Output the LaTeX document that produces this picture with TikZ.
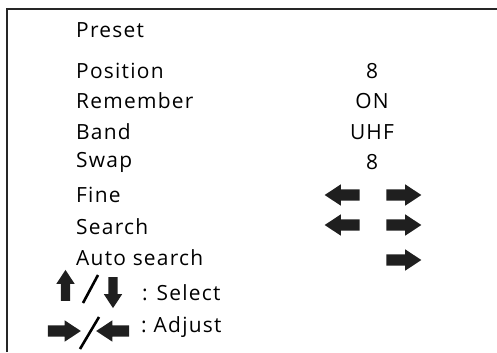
\documentclass[tikz,border=0pt]{standalone}
\usepackage{fontspec}
\setmainfont{Open Sans}[LetterSpace=6]
\usetikzlibrary{shapes.arrows}

\tikzset{
	menu/.style={anchor=west, inner sep=0pt, font=\fontsize{21}{24}\selectfont},
	val/.style={inner sep=0pt, font=\fontsize{21}{24}\selectfont},
	barrow/.style={single arrow, fill=black!88, draw=none, inner xsep=0pt, inner ysep=5.5bp,
		single arrow head extend=5bp, single arrow tip angle=67, minimum height=35bp},
	karrow/.style={barrow, inner ysep=4.5bp, single arrow head extend=4.5bp, minimum height=31bp},
}

\begin{document}
\begin{tikzpicture}[x=1bp, y=-1bp]
		\useasboundingbox (0,0) rectangle (497,352);
		\draw[line width=2.4bp, black!85](7,352)--(7,9)--(497,9);
		% menu
		\node[menu] (preset) at (76,30) {Preset};
		\node[menu] (position) at (76,71) {Position};
		\node[menu] (remember) at (76,101) {Remember};
		\node[menu] (band) at (76,132) {Band};
		\node[menu] (swap) at (76,162) {Swap};
		\node[menu] (fine) at (76,195) {Fine};
		\node[menu] (search) at (76,227) {Search};
		\node[menu] (auto) at (76,258) {Auto search};
		% values
		\node[val] (posval) at (372,71) {8};
		\node[val] (remval) at (372,101) {ON};
		\node[val] (bandval) at (372,132) {UHF};
		\node[val] (swapval) at (372,162) {8};
		\node[barrow, rotate=180] (fineL) at (346.5,195) {};
		\node[barrow] (fineR) at (399.5,195) {};
		\node[barrow, rotate=180] (searchL) at (346.5,225) {};
		\node[barrow] (searchR) at (399.5,225) {};
		\node[barrow] (autoR) at (399.5,260) {};
		% keys
		\node[karrow, rotate=90] (up) at (65.5,289) {};
		\draw[line width=2.6bp](83,303)--(98,275);
		\node[karrow, rotate=-90] (down) at (113,289) {};
		\node[menu] (select) at (142,293) {: Select};
		\node[barrow, minimum height=33bp] (adjR) at (60,331) {};
		\draw[line width=2.6bp](80,349)--(99,317);
		\node[barrow, rotate=180, minimum height=33bp] (adjL) at (117,331) {};
		\node[menu] (adjust) at (141,327) {:\,\,Adjust};
\end{tikzpicture}
\end{document}
